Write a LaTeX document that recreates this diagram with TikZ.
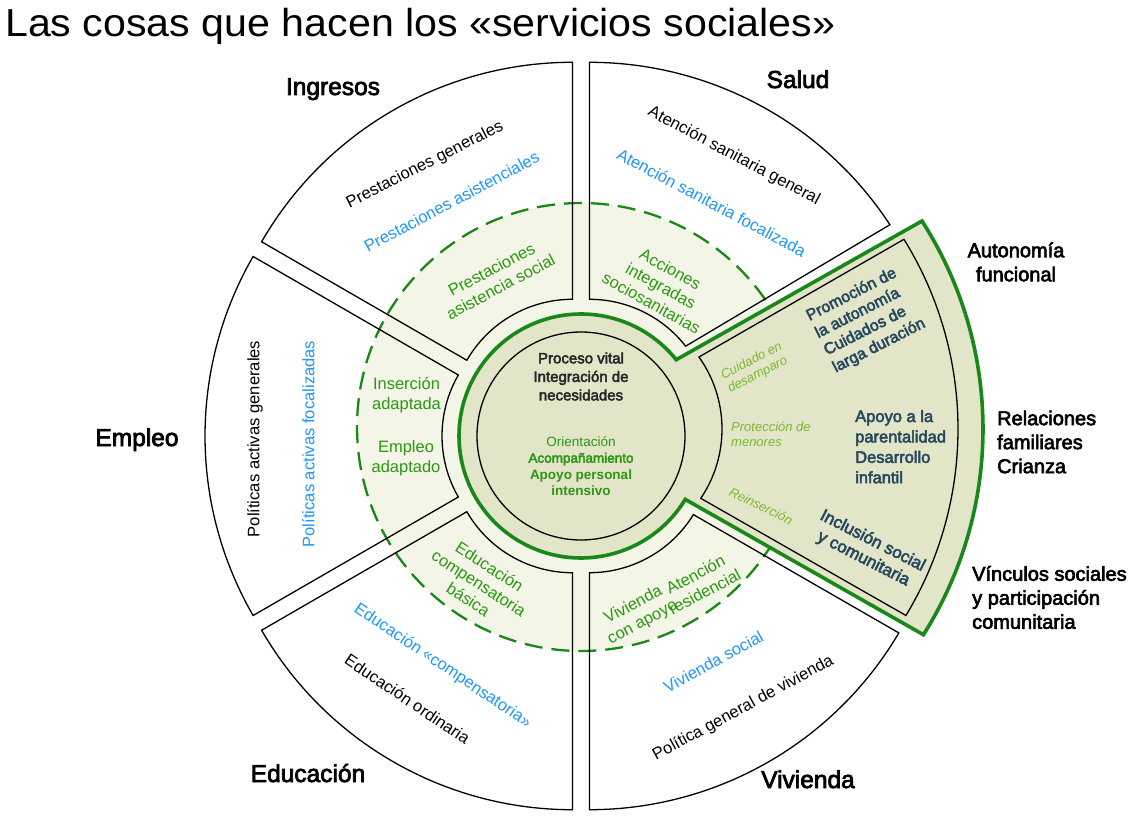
\documentclass[tikz,border=0pt]{standalone}
\usepackage{fontspec}
\usepackage{graphicx}
\setmainfont{Liberation Sans}
\newfontfamily\medfont{Liberation Sans}[FakeBold=3]
\usetikzlibrary{calc}
\definecolor{SocGreen}{RGB}{25,135,25}
\definecolor{TxtGreen}{RGB}{45,150,20}
\definecolor{LightGreen}{RGB}{120,185,50}
\definecolor{PaleZone}{RGB}{243,245,230}
\definecolor{Olive}{RGB}{226,229,200}
\definecolor{Slate}{RGB}{38,72,92}
\definecolor{SkyBlue}{RGB}{30,150,250}

\tikzset{
  sectline/.style={draw=black, line width=1.3pt},
  greenline/.style={draw=SocGreen, line width=3.6pt, line join=miter},
  seclabel/.style={inner sep=0, font=\fontsize{16.6}{19}\selectfont},
  zonelabel/.style={inner sep=0, text=TxtGreen, align=center, font=\fontsize{16.5}{19.5}\selectfont},
  arealabel/.style={inner sep=0, anchor=base, font=\medfont\fontsize{24.5}{28}\selectfont},
  sidelabel/.style={inner sep=0, font=\medfont\fontsize{20}{24}\selectfont},
  boxlabel/.style={inner sep=0, text=Slate, font=\medfont\fontsize{16}{19.3}\selectfont},
  minorlabel/.style={inner sep=0, text=LightGreen, font=\itshape\fontsize{13}{15}\selectfont},
}

\begin{document}
\begin{tikzpicture}[x=1pt, y=1pt]
  \useasboundingbox (0,0) rectangle (1145,823);
  \coordinate (O) at (581,387);
  \coordinate (Cb) at (598,394);
  \coordinate (Cs) at (589.5,401.7);
  \coordinate (Cv) at (589.5,372.3);
  \coordinate (D) at (581,396);

  % pale ring
  \fill[PaleZone] (D) circle[radius=224];
  \draw[SocGreen, line width=2.3pt, dash pattern=on 18pt off 9pt] (D) circle[radius=224];

  % Ingresos, Empleo, Educacion
  \foreach \a in {120,180,240} {
    \draw[sectline] ($(O)+(\a:17)+(\a+30:122)$) arc[start angle=\a+30, end angle=\a-30, radius=122]
      -- ($(O)+(\a:17)+(\a-30:359)$) arc[start angle=\a-30, end angle=\a+30, radius=359] -- cycle;
  }
  % Salud
  \draw[sectline] ($(Cs)+(90:122)$) -- ($(Cs)+(90:359)$) arc[start angle=90, end angle=33.2, radius=359]
    -- ($(Cs)+(38:122)$) arc[start angle=38, end angle=90, radius=122] -- cycle;
  % Vivienda
  \draw[sectline] ($(Cv)+(-90:122)$) -- ($(Cv)+(-90:359)$) arc[start angle=-90, end angle=-30.5, radius=359]
    -- ($(Cv)+(-31.6:122)$) arc[start angle=-31.6, end angle=-90, radius=122] -- cycle;

  % green block and core
  \filldraw[greenline, fill=Olive] ($(O)+(38.7:122)$) -- ($(Cb)+(32.7:385)$) arc[start angle=32.7, end angle=-32.3, radius=385]
    -- ($(O)+(-31.3:122)$) arc[start angle=-31.3, end angle=-321.3, radius=122] -- cycle;
  \draw[sectline] ($(Cb)+(35.5:124)$) -- ($(Cb)+(31.8:360)$) arc[start angle=31.8, end angle=-31.2, radius=360]
    -- ($(Cb)+(-34:124)$) arc[start angle=-34, end angle=35.5, radius=124] -- cycle;
  \draw[sectline, fill=Olive] (O) circle[radius=104];

  % title
  \node[anchor=base west, inner sep=0] (title) at (5,786)
    {\scalebox{1.055}[1]{\fontsize{39}{40}\selectfont Las cosas que hacen los «servicios sociales»}};

  % areas
  \node[arealabel] (ingresos) at (333,728) {Ingresos};
  \node[arealabel] (salud) at (798,735) {Salud};
  \node[arealabel] (empleo) at (137,377) {Empleo};
  \node[arealabel] (educacion) at (308,41) {Educación};
  \node[arealabel] (vivienda) at (808,35) {Vivienda};
  \node[sidelabel, align=center] (autonomia) at (1016,561) {Autonomía\\funcional};
  \node[sidelabel, align=left, anchor=west] (relaciones) at (997,381) {Relaciones\\familiares\\Crianza};
  \node[sidelabel, align=left, anchor=west] (vinculos) at (972,225.5) {Vínculos sociales\\y participación\\comunitaria};

  % white sectors
  \node[seclabel, rotate=27] (prgen) at (425,658) {Prestaciones generales};
  \node[seclabel, rotate=28, text=SkyBlue] (prasis) at (451.7,621.5) {Prestaciones asistenciales};
  \node[seclabel, rotate=-28] (atgen) at (734,667) {Atención sanitaria general};
  \node[seclabel, rotate=-28, text=SkyBlue] (atfoc) at (711.7,620.5) {Atención sanitaria focalizada};
  \node[seclabel, rotate=90] (polgen) at (255,384) {Políticas activas generales};
  \node[seclabel, rotate=90, text=SkyBlue] (polfoc) at (308.3,379) {Políticas activas focalizadas};
  \node[seclabel, rotate=-34, text=SkyBlue] (educomp) at (442.5,157) {Educación «compensatoria»};
  \node[seclabel, rotate=-34] (eduord) at (407.5,124) {Educación ordinaria};
  \node[seclabel, rotate=28.5, text=SkyBlue] (vivsoc) at (713.3,161.3) {Vivienda social};
  \node[seclabel, rotate=28.5] (vivgen) at (743.3,114.7) {Política general de vivienda};

  % pale ring
  \node[zonelabel, rotate=28] (prsocial) at (496,545) {Prestaciones\\asistencia social};
  \node[zonelabel, rotate=-29] (acciones) at (661,537) {Acciones\\integradas\\sociosanitarias};
  \node[zonelabel] (insercion) at (406.5,428) {Inserción\\adaptada};
  \node[zonelabel] (empadap) at (406,365) {Empleo\\adaptado};
  \node[zonelabel, rotate=-33] (educbas) at (479,240) {Educación\\compensatoria\\básica};
  \node[zonelabel, rotate=28] (vivapoyo) at (638,209) {Vivienda\\con apoyo};
  \node[zonelabel, rotate=28] (atresid) at (700,240) {Atención\\residencial};

  % core
  \node[inner sep=0, align=center, text=black!85, font=\medfont\fontsize{15}{18.5}\selectfont] (vital) at (581,446.5)
    {Proceso vital\\Integración de\\necesidades};
  \node[inner sep=0, align=center, text=TxtGreen, font=\fontsize{13.5}{16.5}\selectfont] (acomp) at (581,357)
    {Orientación\\{\medfont Acompañamiento}\\\textbf{Apoyo personal}\\\textbf{intensivo}};

  % green block
  \node[boxlabel, rotate=27, align=left] (promocion) at (866,503) {Promoción de\\la autonomía\\Cuidados de\\larga duración};
  \node[boxlabel, align=left, anchor=west, font=\medfont\fontsize{16.5}{20.4}\selectfont] (parental) at (855,376.3)
    {Apoyo a la\\parentalidad\\Desarrollo\\infantil};
  \node[boxlabel, rotate=-27, align=center, font=\medfont\fontsize{17}{20}\selectfont] (inclusion) at (868,273)
    {Inclusión social\\y comunitaria};
  \node[minorlabel, rotate=27, align=left] (cuidado) at (755,455) {Cuidado en\\desamparo};
  \node[minorlabel, align=left, anchor=west] (proteccion) at (731,389) {Protección de\\menores};
  \node[minorlabel, rotate=-26] (reinsercion) at (761,317) {Reinserción};
\end{tikzpicture}
\end{document}
